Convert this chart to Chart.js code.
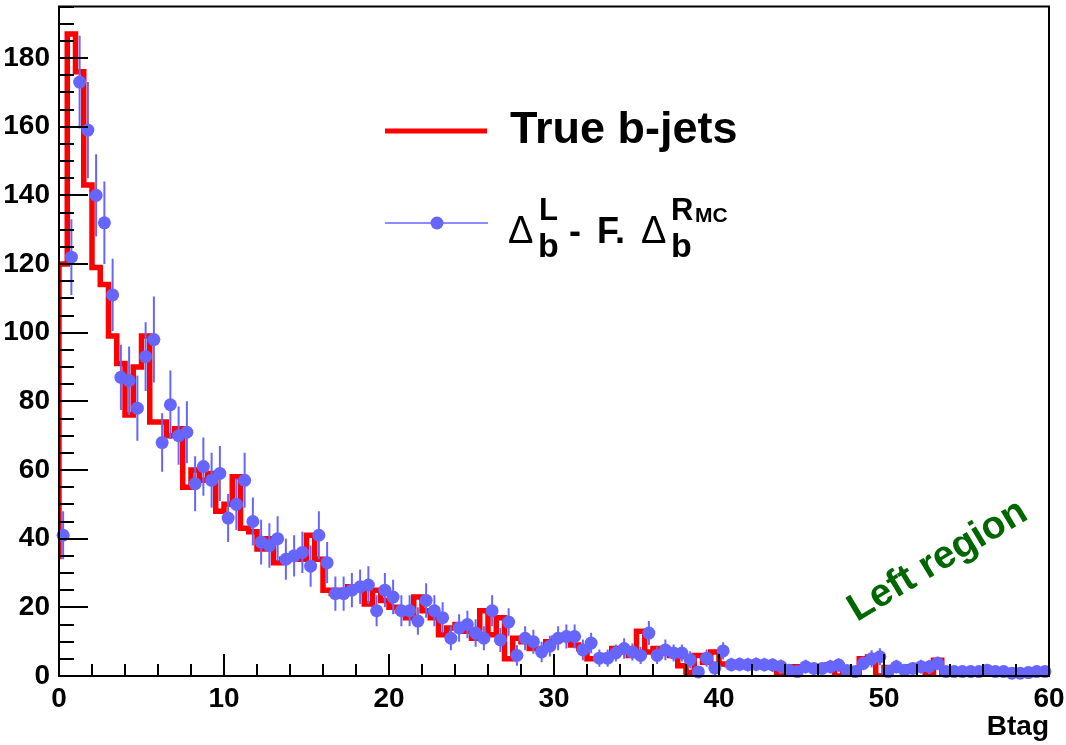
<!DOCTYPE html>
<html>
<head>
<meta charset="utf-8">
<script src="https://cdn.jsdelivr.net/npm/chart.js@4/dist/chart.umd.min.js"></script>
<style>
  html, body { margin: 0; padding: 0; background: #fff; }
  #wrap { position: relative; width: 1066px; height: 745px; }
</style>
</head>
<body>
<div id="wrap"><canvas id="c" width="1066" height="745"></canvas></div>
<script>
// Btag histogram, 120 bins of 0.5 from 0 to 60
const X_MIN = 0, X_MAX = 60, BIN_W = 0.5;
const Y_MAX = 195;
const xTicks = [0, 10, 20, 30, 40, 50, 60];
const yTicks = [0, 20, 40, 60, 80, 100, 120, 140, 160, 180];

// red: true b-jets
const trueBjets = [
  34, 120, 187, 176, 143, 119, 114, 99, 91, 76,
  90, 99, 74, 74, 70, 72, 55, 60, 57, 59,
  48, 50, 58, 43, 42, 37, 40, 33, 34, 35,
  34, 41, 34, 25, 24, 25, 26, 26, 21, 25,
  22, 20, 19, 17, 23, 19, 17, 12, 14, 15,
  13, 11, 19, 12, 17, 5, 11, 10, 8, 8,
  10, 11, 11, 9, 8, 5, 5, 6, 8, 7,
  6, 13, 7, 8, 7, 6, 3, 1, 6, 4,
  7, 3.5, 3.3, 3.3, 3.3, 3.3, 3.3, 3, 0, 1.5,
  2.7, 2.2, 2.2, 2.7, 3.2, 0, 1.5, 0.5, 5, 5.5,
  0, 2.5, 1.7, 2.2, 2.7, 2.5, 0, 4.6, 0, 0,
  0, 1.5, 1.5, 1.3, 0, 0, 0.8, 0, 0, 1.3
];

// blue points: Delta_b^L - F. Delta_b^RMC
const subtracted = [
  41, 122, 173, 159, 140, 132, 111, 87, 86, 78,
  93, 98, 68, 79, 70, 71, 56, 61, 57, 59,
  46, 50, 57, 45, 39, 38, 40, 34, 35, 36,
  32, 41, 33, 24, 24, 25, 26, 26.5, 19, 25,
  23, 19, 19, 16, 22, 19, 17, 11, 14, 15,
  12.5, 11, 19, 10.5, 15.7, 6, 11, 10, 7, 8.7,
  11, 11.5, 11.5, 7.6, 9.6, 5.2, 5.2, 6.7, 8, 7,
  6, 12.5, 6, 7.6, 6.7, 6.7, 4.7, 1.2, 5.2, 2.3,
  7.3, 3.3, 3.4, 3.3, 3.4, 3.3, 3.2, 2.8, 1.7, 1.3,
  2.7, 2.2, 2.2, 2.7, 3.2, 1.6, 1.3, 3.7, 5, 5.6,
  1.3, 2.7, 1.7, 2.2, 2.7, 2.7, 3.7, 1.3, 1.3, 1.3,
  1.3, 1.3, 1.7, 1.3, 1.3, 0.8, 0.8, 1, 1.3, 1.3
];
const subErr = [
  7, 11, 13.5, 14, 12, 12, 10.5, 9.5, 10, 9.5,
  10, 12.5, 8.5, 10, 8.5, 9, 8, 8.5, 8, 8,
  7, 7.5, 8, 7, 6.5, 6.5, 6.5, 6, 6, 6,
  6, 7, 6, 5, 5, 5, 5, 5.5, 4.5, 5,
  5, 4.5, 4.5, 4, 5, 4.5, 4.5, 3.5, 4, 4,
  4, 3.5, 4.5, 3.5, 4, 3, 3.5, 3.5, 3, 3,
  3.5, 3.5, 3.5, 3, 3, 2.5, 2.5, 2.5, 3, 2.5,
  2.5, 3.5, 2.5, 3, 2.5, 2.5, 2.5, 1.5, 2.5, 2,
  2.5, 2, 2, 2, 2, 2, 2, 2, 1.5, 1.5,
  2, 1.5, 1.5, 2, 2, 1.5, 1.5, 2, 2.5, 2.5,
  1.5, 2, 1.5, 1.5, 2, 2, 2, 1.5, 1.5, 1.5,
  1.5, 1.5, 1.5, 1.5, 1.5, 1, 1, 1, 1.5, 1.5
];

const RED = '#ff0000', BLUE = '#6666ff', GREEN = '#006600';
const FONT = "'Liberation Sans', Arial, Helvetica, sans-serif";

Chart.defaults.font.family = FONT;
Chart.defaults.font.weight = 'bold';
Chart.defaults.color = '#000';

const redPts = trueBjets.map((v, i) => ({ x: X_MIN + i * BIN_W, y: v }));
redPts.push({ x: X_MAX, y: trueBjets[trueBjets.length - 1] });
const bluePts = subtracted.map((v, i) => ({ x: X_MIN + (i + 0.5) * BIN_W, y: v }));

function txt(ctx, s, x, y, size, weight, color) {
  ctx.font = `${weight} ${size}px ${FONT}`;
  ctx.fillStyle = color || '#000';
  ctx.fillText(s, x, y);
}

const rootStyle = {
  id: 'rootStyle',
  afterDatasetDraw(chart, args) {
    if (args.index !== 0) return; // after the red histogram, under the blue markers
    const { ctx, scales: { x, y } } = chart;
    ctx.save();
    ctx.strokeStyle = BLUE;
    ctx.lineWidth = 2;
    ctx.beginPath();
    subtracted.forEach((v, i) => {
      const xc = x.getPixelForValue(X_MIN + (i + 0.5) * BIN_W);
      const x0 = x.getPixelForValue(X_MIN + i * BIN_W);
      const x1 = x.getPixelForValue(X_MIN + (i + 1) * BIN_W);
      const yc = y.getPixelForValue(v);
      ctx.moveTo(xc, y.getPixelForValue(Math.max(0, v - subErr[i])));
      ctx.lineTo(xc, y.getPixelForValue(v + subErr[i]));
      ctx.moveTo(x0, yc);
      ctx.lineTo(x1, yc);
    });
    ctx.stroke();
    ctx.restore();
  },
  afterDraw(chart) {
    const { ctx, chartArea: { left, right, top, bottom }, scales: { x, y } } = chart;
    ctx.save();

    // frame + axes
    ctx.strokeStyle = '#000';
    ctx.lineWidth = 2;
    ctx.strokeRect(left, top, right - left, bottom - top);

    // inside ticks
    ctx.beginPath();
    for (let v = 0; v <= Y_MAX; v += 5) {
      const py = Math.round(y.getPixelForValue(v));
      ctx.moveTo(left, py);
      ctx.lineTo(left + (v % 20 === 0 ? 29 : 15), py);
    }
    for (let v = X_MIN; v <= X_MAX; v += 2) {
      const px = Math.round(x.getPixelForValue(v));
      ctx.moveTo(px, bottom);
      ctx.lineTo(px, bottom - (v % 10 === 0 ? 22 : 12));
    }
    ctx.stroke();

    // legend
    ctx.textBaseline = 'alphabetic';
    ctx.textAlign = 'left';
    ctx.strokeStyle = RED;
    ctx.lineWidth = 5;
    ctx.beginPath(); ctx.moveTo(385, 131); ctx.lineTo(487, 131); ctx.stroke();
    txt(ctx, 'True b-jets', 510, 143, 45, 'bold');

    ctx.strokeStyle = BLUE;
    ctx.lineWidth = 1.5;
    ctx.beginPath(); ctx.moveTo(385, 223); ctx.lineTo(488, 223); ctx.stroke();
    ctx.fillStyle = BLUE;
    ctx.beginPath(); ctx.arc(437, 223, 6.5, 0, Math.PI * 2); ctx.fill();

    txt(ctx, '\u0394', 508, 243, 38, 'normal');
    txt(ctx, 'b', 538, 257, 34, 'bold');
    txt(ctx, 'L', 539, 220, 31, 'bold');
    txt(ctx, '-', 569, 243, 36, 'bold');
    txt(ctx, 'F.', 597, 243, 36, 'bold');
    txt(ctx, '\u0394', 641, 243, 38, 'normal');
    txt(ctx, 'b', 671, 257, 34, 'bold');
    txt(ctx, 'R', 671, 220, 31, 'bold');
    txt(ctx, 'MC', 695, 222, 21, 'bold');

    // region label
    ctx.translate(857, 622);
    ctx.rotate(-31 * Math.PI / 180);
    txt(ctx, 'Left region', 0, 0, 39, 'bold', GREEN);

    ctx.restore();
  }
};

new Chart(document.getElementById('c').getContext('2d'), {
  type: 'line',
  data: {
    datasets: [
      {
        label: 'True b-jets',
        data: redPts,
        borderColor: RED,
        borderWidth: 5.5,
        stepped: 'after',
        borderJoinStyle: 'miter',
        pointRadius: 0,
        fill: false,
        order: 2
      },
      {
        label: 'Delta_b^L - F. Delta_b^RMC',
        data: bluePts,
        showLine: false,
        pointRadius: 6.5,
        pointBackgroundColor: BLUE,
        pointBorderWidth: 0,
        clip: false,
        order: 1
      }
    ]
  },
  options: {
    responsive: false,
    animation: false,
    events: [],
    layout: { padding: { top: 6, right: 17, left: 0, bottom: 0 } },
    plugins: { legend: { display: false }, tooltip: { enabled: false } },
    scales: {
      x: {
        type: 'linear', min: X_MIN, max: X_MAX,
        grid: { display: false, drawTicks: false },
        border: { display: false },
        afterBuildTicks: s => { s.ticks = xTicks.map(v => ({ value: v })); },
        afterFit: s => { s.height = 69; s.paddingLeft = 0; s.paddingRight = 0; },
        ticks: { font: { size: 28, weight: 'bold' }, padding: 6, maxRotation: 0, autoSkip: false },
        title: { display: true, text: 'Btag', align: 'end', font: { size: 28, weight: 'bold' }, padding: { top: 0, bottom: 1 } }
      },
      y: {
        type: 'linear', min: 0, max: Y_MAX,
        grid: { display: false, drawTicks: false },
        border: { display: false },
        afterBuildTicks: s => { s.ticks = yTicks.map(v => ({ value: v })); },
        afterFit: s => { s.width = 59; s.paddingTop = 0; s.paddingBottom = 0; },
        ticks: { font: { size: 28, weight: 'bold' }, padding: 9, autoSkip: false }
      }
    }
  },
  plugins: [rootStyle]
});
</script>
</body>
</html>
